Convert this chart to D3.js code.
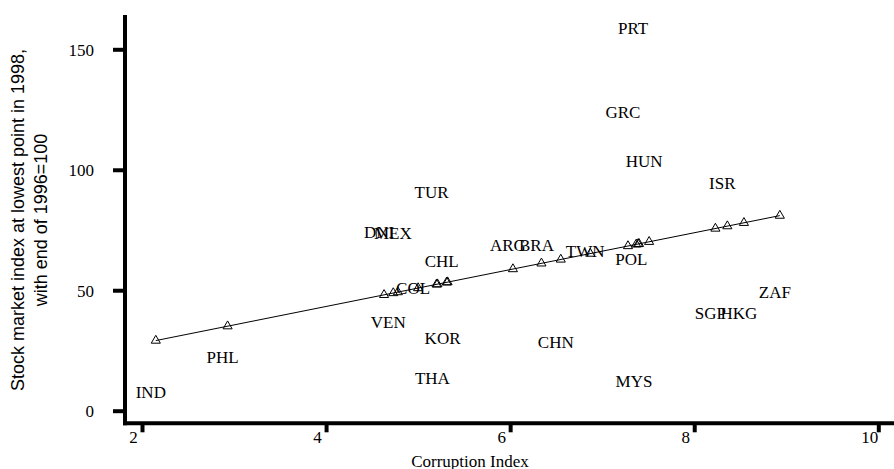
<!DOCTYPE html>
<html>
<head>
<meta charset="utf-8">
<script src="https://cdn.jsdelivr.net/npm/d3@7"></script>
<style>
  body { margin: 0; background: #fff; }
  .chart text { fill: #000; }
</style>
</head>
<body>
<div class="chart"></div>
<script>
// country codes, corruption index and stock index (lowest point 1998, end 1996 = 100)
var countries = ["IND", "PHL", "DNI", "VEN", "MEX", "COL", "TUR", "THA", "CHL", "KOR", "ARG", "BRA",
                 "CHN", "TWN", "GRC", "POL", "PRT", "MYS", "HUN", "SGP", "ISR", "HKG", "ZAF"];
var corruption = [2.15, 2.93, 4.63, 4.73, 4.78, 5.00, 5.20, 5.21, 5.31, 5.32, 6.03, 6.34,
                  6.55, 6.87, 7.28, 7.37, 7.39, 7.40, 7.51, 8.23, 8.36, 8.54, 8.93];
var stockIndex = [7.5, 22.1, 73.9, 36.7, 73.5, 50.9, 90.4, 13.4, 62.1, 30.1, 68.8, 68.8,
                  28.5, 66.3, 124.0, 62.8, 158.5, 12.0, 103.4, 40.4, 94.3, 40.4, 49.1];
var xTicks = [2, 4, 6, 8, 10];
var yTicks = [0, 50, 100, 150];

var chartWidth = 894;
var chartHeight = 469;
var serif = "'Liberation Serif', 'Times New Roman', serif";
var sans = "'Liberation Sans', Arial, sans-serif";

var x = d3.scaleLinear().domain([2, 10]).range([142, 878.3]);
var y = d3.scaleLinear().domain([0, 150]).range([410.7, 49.3]);

// least squares fit of stock index on corruption
var mx = d3.mean(corruption), my = d3.mean(stockIndex);
var sxy = d3.sum(corruption, function(d, i) { return (d - mx) * (stockIndex[i] - my); });
var sxx = d3.sum(corruption, function(d) { return (d - mx) * (d - mx); });
var slope = sxy / sxx;
var intercept = my - slope * mx;
function fit(v) { return intercept + slope * v; }

var dataset = countries.map(function(c, i) {
  return { code: c, cx: corruption[i], val: stockIndex[i], pred: fit(corruption[i]) };
});

var svg = d3.select(".chart")
  .append("svg")
  .attr("width", chartWidth)
  .attr("height", chartHeight);

// axes
var yAxis = svg.append("g")
  .attr("transform", "translate(125,0)")
  .call(d3.axisLeft(y).tickValues(yTicks).tickSize(12).tickSizeOuter(0).tickFormat(d3.format("d")));
yAxis.select(".domain").remove();
yAxis.selectAll(".tick line").attr("stroke", "#000").attr("stroke-width", 4);
yAxis.selectAll(".tick text")
  .attr("x", -31).attr("dy", "0.34em")
  .style("font-family", serif).style("font-size", "17px");

var xAxis = svg.append("g")
  .attr("transform", "translate(0,423.3)")
  .call(d3.axisBottom(x).tickValues(xTicks).tickSize(9).tickSizeOuter(0).tickFormat(d3.format("d")));
xAxis.select(".domain").remove();
xAxis.selectAll(".tick line").attr("stroke", "#000").attr("stroke-width", 4);
xAxis.selectAll(".tick text")
  .attr("x", -9).attr("y", 20.2).attr("dy", null)
  .style("font-family", serif).style("font-size", "17px");

svg.append("line")
  .attr("x1", 125).attr("x2", 125).attr("y1", 15).attr("y2", 425.3)
  .attr("stroke", "#000").attr("stroke-width", 4);
svg.append("line")
  .attr("x1", 123).attr("x2", chartWidth).attr("y1", 423.3).attr("y2", 423.3)
  .attr("stroke", "#000").attr("stroke-width", 4);

// titles
svg.append("text")
  .attr("x", 470).attr("y", 466.5)
  .attr("text-anchor", "middle")
  .style("font-family", serif).style("font-size", "17px")
  .text("Corruption Index");

var yTitle = svg.append("text")
  .attr("transform", "translate(0,220) rotate(-90)")
  .attr("text-anchor", "middle")
  .style("font-family", sans).style("font-size", "18px");
yTitle.append("tspan").attr("x", 0).attr("y", 24).text("Stock market index at lowest point in 1998,");
yTitle.append("tspan").attr("x", 0).attr("y", 47).text("with end of 1996=100");

// fitted line with triangles
var ext = d3.extent(corruption);
svg.append("line")
  .attr("x1", x(ext[0])).attr("y1", y(fit(ext[0])))
  .attr("x2", x(ext[1])).attr("y2", y(fit(ext[1])))
  .attr("stroke", "#000").attr("stroke-width", 1);

svg.selectAll("path.tri")
  .data(dataset)
  .enter()
  .append("path")
  .attr("class", "tri")
  .attr("d", d3.symbol().type(d3.symbolTriangle).size(36))
  .attr("transform", function(d) { return "translate(" + x(d.cx) + "," + y(d.pred) + ")"; })
  .attr("fill", "none")
  .attr("stroke", "#000")
  .attr("stroke-width", 1);

// country labels at the actual values
svg.selectAll("text.lab")
  .data(dataset)
  .enter()
  .append("text")
  .attr("class", "lab")
  .attr("x", function(d) { return x(d.cx) - 5; })
  .attr("y", function(d) { return y(d.val) + 5.6; })
  .attr("text-anchor", "middle")
  .style("font-family", serif).style("font-size", "17px")
  .text(function(d) { return d.code; });
</script>
</body>
</html>
